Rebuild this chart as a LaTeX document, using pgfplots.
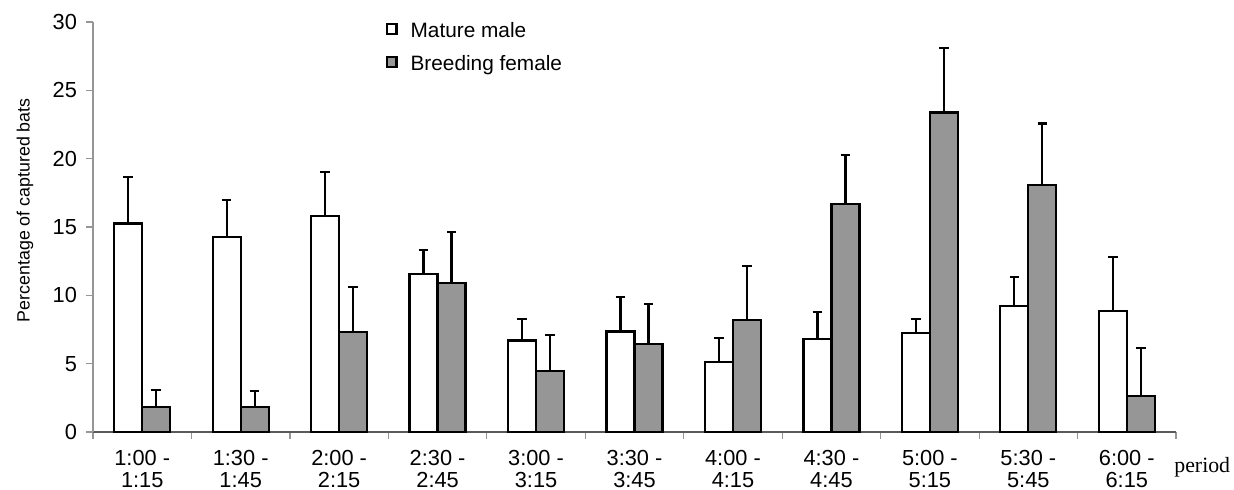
\documentclass[border=0pt]{standalone}
\usepackage{pgfplots}
\pgfplotsset{compat=1.18}
\usepackage{fontspec}
\setmainfont{Liberation Sans}
\newfontfamily\serifx{Liberation Serif}
\definecolor{barg}{RGB}{150,150,150}
\definecolor{axg}{RGB}{150,150,150}
\definecolor{axd}{RGB}{90,90,90}
\newcommand\tickfont{\fontsize{10.9}{11.2}\selectfont}
\begin{document}
\begin{tikzpicture}
\useasboundingbox (-46.5pt,-29pt) rectangle (570.5pt,216pt);
\begin{axis}[
  at={(0,0)}, anchor=south west,
  scale only axis, width=541.5pt, height=205pt,
  clip=false,
  ymin=0, ymax=30, xmin=-0.5, xmax=10.5,
  ytick={0,5,...,30},
  xtick={0,...,10},
  xticklabels={{1:00 -\\1:15},{1:30 -\\1:45},{2:00 -\\2:15},{2:30 -\\2:45},{3:00 -\\3:15},{3:30 -\\3:45},{4:00 -\\4:15},{4:30 -\\4:45},{5:00 -\\5:15},{5:30 -\\5:45},{6:00 -\\6:15}},
  minor xtick={-0.5,0.5,...,10.5},
  major x tick style={draw=none},
  minor x tick style={draw=axg, line width=0.6pt},
  minor tick length=3.5pt,
  major tick length=3.5pt,
  tick align=outside,
  axis x line*=bottom, axis y line*=left,
  y axis line style={axg, line width=0.6pt, -},
  x axis line style={axd, line width=0.7pt, -},
  ytick style={draw=axg, line width=0.6pt},
  /pgf/number format/assume math mode=true,
  tick label style={font=\tickfont, black},
  yticklabel style={xshift=-1pt},
  xticklabel style={align=center, yshift=-2pt},
  ylabel={Percentage of captured bats},
  ylabel style={font=\fontsize{8.9}{10}\selectfont, at={(rel axis cs:0,0.541)}, anchor=center, yshift=34pt},
  ybar=0pt, bar width=14pt,
  legend style={draw=none, fill=none, at={(0.27,1.01)}, anchor=north west, font=\fontsize{10.4}{12}\selectfont, row sep=3.5pt, inner sep=0pt, nodes={inner xsep=6.5pt}},
  legend image code/.code={\draw[#1, draw=black, line width=1.1pt] (0pt,-1.2pt) rectangle (4.8pt,3.6pt);},
  legend cell align=left,
]
\addplot[fill=white, draw=black, line width=1.1pt,
  error bars/.cd, y dir=plus, y explicit,
  error bar style={black, line width=1.1pt},
  error mark options={black, line width=1.1pt, mark size=2.4pt, rotate=90}]
  table[x=x, y=y, y error=e] {
x y e
0 15.25 3.4
1 14.25 2.75
2 15.8 3.2
3 11.55 1.75
4 6.7 1.57
5 7.35 2.5
6 5.12 1.73
7 6.83 1.95
8 7.24 1.0
9 9.22 2.1
10 8.83 4.0
};
\addlegendentry{Mature male}
\addplot[fill=barg, draw=black, line width=1.1pt,
  error bars/.cd, y dir=plus, y explicit,
  error bar style={black, line width=1.1pt},
  error mark options={black, line width=1.1pt, mark size=2.4pt, rotate=90}]
  table[x=x, y=y, y error=e] {
x y e
0 1.85 1.22
1 1.85 1.15
2 7.3 3.3
3 10.88 3.77
4 4.49 2.6
5 6.41 2.93
6 8.19 3.95
7 16.68 3.58
8 23.38 4.72
9 18.1 4.48
10 2.61 3.53
};
\addlegendentry{Breeding female}
\node[anchor=west, inner sep=0pt, font=\serifx\fontsize{10.9}{12}\selectfont] at ([yshift=-17.5pt, xshift=-1pt]rel axis cs:1,0) {period};
\end{axis}
\end{tikzpicture}
\end{document}
